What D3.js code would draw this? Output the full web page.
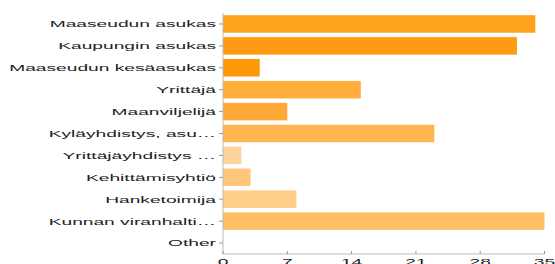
<!DOCTYPE html>
<html>
<head>
<meta charset="utf-8">
<script src="https://cdn.jsdelivr.net/npm/d3@7"></script>
<style>
  body { margin: 0; background: #fff; }
  svg { display: block; }
</style>
</head>
<body>
<svg id="chart" width="555" height="264"></svg>
<script>
// Survey answers (counts per respondent group)
const categories = [
    "Maaseudun asukas",
    "Kaupungin asukas",
    "Maaseudun kesäasukas",
    "Yrittäjä",
    "Maanviljelijä",
    "Kyläyhdistys, asu…",
    "Yrittäjäyhdistys …",
    "Kehittämisyhtiö",
    "Hanketoimija",
    "Kunnan viranhalti…",
    "Other"
];
const counts = [34, 32, 4, 15, 7, 23, 2, 3, 8, 35, 0];
const tickValues = [0, 7, 14, 21, 28, 35];
const barColors = ["#ffa21d", "#ff9b12", "#ff9806", "#ffad3b", "#ffaa36",
                   "#ffb550", "#ffd49c", "#ffc67b", "#ffcd8a", "#ffbf64", "#ffc880"];

const svg = d3.select("#chart");
const plotLeft = 223, plotRight = 544.5, plotTop = 13, plotBottom = 254;
const stretch = 2.0; // text in the picture is wide

const x = d3.scaleLinear().domain([0, 35]).range([plotLeft, plotRight]);
const y = d3.scaleBand().domain(categories).range([plotTop, plotBottom]).paddingInner(0.2).paddingOuter(0.1);

// bars
svg.append("g")
    .selectAll("rect")
    .data(categories)
    .join("rect")
    .attr("x", x(0))
    .attr("y", d => y(d))
    .attr("width", (d, i) => x(counts[i]) - x(0))
    .attr("height", y.bandwidth())
    .attr("fill", (d, i) => barColors[i]);

// y axis line and ticks
svg.append("line")
    .attr("x1", plotLeft).attr("x2", plotLeft)
    .attr("y1", plotTop).attr("y2", plotBottom)
    .attr("stroke", "#bbb");

const yTicks = svg.append("g")
    .selectAll("g")
    .data(categories)
    .join("g")
    .attr("transform", d => `translate(${plotLeft},${y(d) + y.bandwidth() / 2})`);

yTicks.append("line")
    .attr("x1", -4).attr("x2", 0)
    .attr("stroke", "#999");

yTicks.append("text")
    .attr("transform", `translate(-7,0) scale(${stretch},1)`)
    .attr("dy", "0.35em")
    .attr("text-anchor", "end")
    .style("font-family", "Liberation Sans, Arial, sans-serif")
    .style("font-size", "9.6px")
    .attr("fill", "#222")
    .text(d => d);

// x axis line and ticks
svg.append("line")
    .attr("x1", plotLeft).attr("x2", plotRight)
    .attr("y1", plotBottom).attr("y2", plotBottom)
    .attr("stroke", "#bbb");

const xTicks = svg.append("g")
    .selectAll("g")
    .data(tickValues)
    .join("g")
    .attr("transform", d => `translate(${x(d)},${plotBottom})`);

xTicks.append("line")
    .attr("y1", -3).attr("y2", 0)
    .attr("stroke", "#999");

xTicks.append("text")
    .attr("transform", `translate(0,11) scale(${stretch},1)`)
    .attr("text-anchor", "middle")
    .style("font-family", "Liberation Sans, Arial, sans-serif")
    .style("font-size", "9.6px")
    .attr("fill", "#222")
    .text(d => d);
</script>
</body>
</html>
